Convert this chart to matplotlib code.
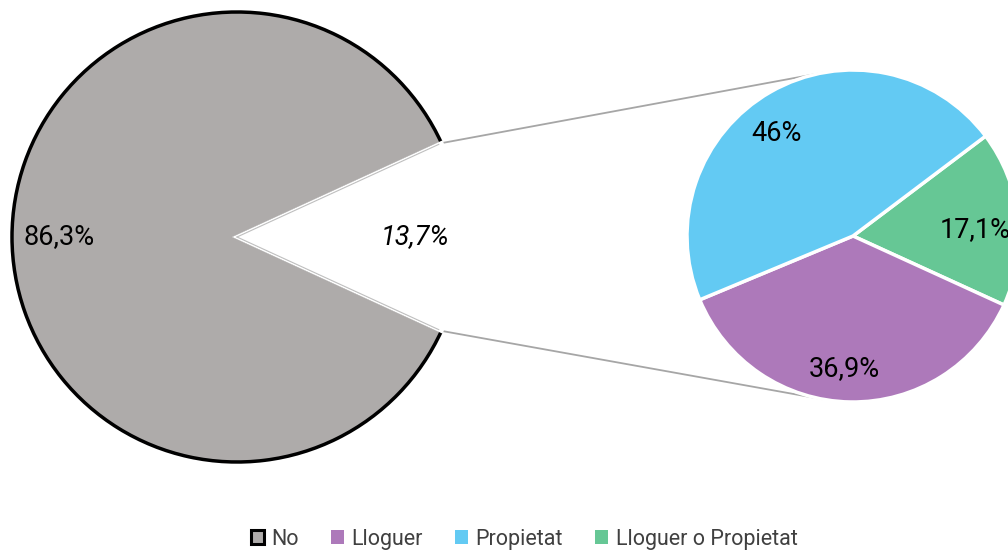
import numpy as np
import matplotlib
matplotlib.use("Agg")
import matplotlib.pyplot as plt
from matplotlib.patches import Patch

plt.rcParams['font.family'] = ['Roboto', 'DejaVu Sans']

# Data
main_labels = ["No", "Sí"]
main_values = [86.3, 13.7]
sub_labels = ["Lloguer o Propietat", "Lloguer", "Propietat"]
sub_values = [17.1, 36.9, 46.0]
legend_labels = ["No", "Lloguer", "Propietat", "Lloguer o Propietat"]

c_no = "#AEABAA"
c_sub = {"Lloguer": "#AD79BA", "Propietat": "#63CAF3", "Lloguer o Propietat": "#66C795"}

W, H = 1008, 560
fig = plt.figure(figsize=(W / 100, H / 100), dpi=100)
ax = fig.add_axes([0, 0, 1, 1])

def fmt(p):
    return f"{round(p, 1):g}%".replace(".", ",")

LABEL_FS = 19.5

# Big pie
big_c = (237, 323)
big_r = 225
start = main_values[1] * 360 / 200.0
wedges, texts, autos = ax.pie(main_values, colors=[c_no, "white"], center=big_c, radius=big_r,
                              startangle=start, autopct=fmt, pctdistance=0.79,
                              textprops=dict(fontsize=LABEL_FS, color="black"))
wedges[0].set_edgecolor("black")
wedges[0].set_linewidth(2.5)
wedges[1].set_edgecolor("white")
wedges[1].set_linewidth(3)
wedges[1].set_zorder(3)
autos[1].set_fontstyle("italic")
autos[1].set_zorder(5)

# thin gray lines along the cut of the white wedge
w = wedges[1]
cx, cy = w.center
for th in (w.theta1, w.theta2):
    ang = np.deg2rad(th)
    ax.plot([cx, cx + (w.r - 3) * np.cos(ang)], [cy, cy + (w.r - 3) * np.sin(ang)],
            color="#BFBFBF", lw=0.8, zorder=4)

# Small pie
small_c = (853, 324)
small_r = 166
sub_start = 37
sw, stexts, sautos = ax.pie(sub_values, colors=[c_sub[l] for l in sub_labels], center=small_c,
                            radius=small_r, startangle=sub_start, counterclock=False,
                            autopct=fmt, pctdistance=0.78,
                            wedgeprops=dict(edgecolor="white", linewidth=2.5),
                            textprops=dict(fontsize=LABEL_FS, color="black"))
# best-fit style label placement (angle tweak in degrees, radial fraction)
tweaks = [(-3.4, 0.735), (-2.6, 0.80), (6.9, 0.77)]
for s, t, (dang, frac) in zip(sw, sautos, tweaks):
    s.set_zorder(3)
    mid = np.deg2rad((s.theta1 + s.theta2) / 2 + dang)
    t.set_position((small_c[0] + frac * small_r * np.cos(mid), small_c[1] + frac * small_r * np.sin(mid)))
    t.set_zorder(6)

# connector lines: from cut endpoints to tangent points on small pie
for th, sign in ((w.theta2, 1), (w.theta1, -1)):
    ang = np.deg2rad(th)
    px, py = cx + w.r * np.cos(ang), cy + w.r * np.sin(ang)
    dx, dy = px - small_c[0], py - small_c[1]
    d = np.hypot(dx, dy)
    base = np.arctan2(dy, dx)
    off = np.arccos(small_r / d)
    ta = base - sign * off
    tx, ty = small_c[0] + small_r * np.cos(ta), small_c[1] + small_r * np.sin(ta)
    ax.plot([px, tx], [py, ty], color="#A6A6A6", lw=1.3, zorder=2)

ax.set_xlim(0, W)
ax.set_ylim(0, H)
ax.set_aspect("equal")
ax.axis("off")

handles = [Patch(facecolor=c_no, edgecolor="black", linewidth=2.2)]
handles += [Patch(facecolor=c_sub[l], edgecolor="none") for l in legend_labels[1:]]
fig.legend(handles, legend_labels, loc="lower center", bbox_to_anchor=(0.52, -0.016), ncol=4,
           frameon=False, fontsize=15.5, handlelength=0.6, handleheight=0.6,
           handletextpad=0.35, columnspacing=1.5, labelcolor="#404040")

fig.savefig("out.png", dpi=100)
